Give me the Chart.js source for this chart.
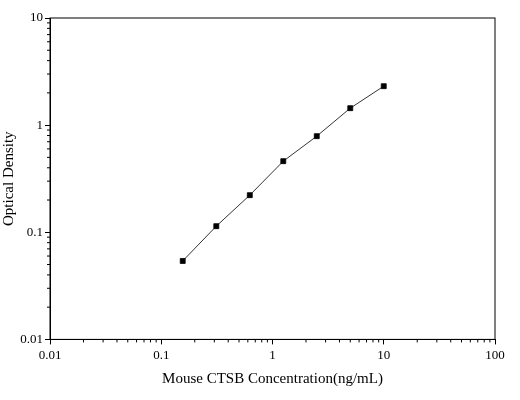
<!DOCTYPE html>
<html><head><meta charset="utf-8">
<script src="https://cdn.jsdelivr.net/npm/chart.js@4"></script>
<style>html,body{margin:0;background:#fff}#w{width:520px;height:400px}</style>
</head><body><div id="w"><canvas id="c"></canvas></div>
<script>
const concentrations=[0.156,0.3125,0.625,1.25,2.5,5,10];
const opticalDensity=[0.054,0.114,0.222,0.461,0.789,1.44,2.31];
const xTicks=[0.01,0.1,1,10,100];
const yTicks=[0.01,0.1,1,10];
const font={family:'"Liberation Serif", serif',size:13};
const box={id:'box',afterDraw(ch){const a=ch.chartArea,c=ch.ctx;c.save();c.strokeStyle='#000';c.lineWidth=1;c.strokeRect(a.left,a.top,a.right-a.left,a.bottom-a.top);
 const x=ch.scales.x,y=ch.scales.y;c.beginPath();
 for(let d=0.01;d<100;d*=10)for(let k=2;k<10;k++){const px=x.getPixelForValue(d*k);c.moveTo(px,a.bottom);c.lineTo(px,a.bottom+3);}
 for(let d=0.01;d<10;d*=10)for(let k=2;k<10;k++){const py=y.getPixelForValue(d*k);c.moveTo(a.left,py);c.lineTo(a.left-3,py);}
 c.stroke();c.restore();}};
new Chart(document.getElementById('c'),{type:'line',
data:{datasets:[{data:concentrations.map((v,i)=>({x:v,y:opticalDensity[i]})),borderColor:'#000',borderWidth:0.8,backgroundColor:'#000',pointStyle:'rect',pointRadius:3.5,tension:0}]},
options:{responsive:true,maintainAspectRatio:false,animation:false,layout:{padding:{top:18,right:25,left:0,bottom:8}},
plugins:{legend:{display:false},tooltip:{enabled:false}},
scales:{
x:{type:'logarithmic',min:0.01,max:100,afterBuildTicks:s=>{s.ticks=xTicks.map(v=>({value:v}));},
 ticks:{color:'#000',font,callback:v=>String(v),maxRotation:0},grid:{drawOnChartArea:false,tickLength:5,color:'#000'},border:{color:'#000'},
 title:{display:true,text:'Mouse CTSB Concentration(ng/mL)',color:'#000',font:{family:font.family,size:15}}},
y:{type:'logarithmic',min:0.01,max:10,afterBuildTicks:s=>{s.ticks=yTicks.map(v=>({value:v}));},afterFit:s=>{s.width=50;},
 ticks:{color:'#000',font,callback:v=>String(v),padding:2},grid:{drawOnChartArea:false,tickLength:5,color:'#000'},border:{color:'#000'},
 title:{display:true,text:'Optical Density',color:'#000',font:{family:font.family,size:15},padding:{top:0,bottom:2}}}}},
plugins:[box]});
</script></body></html>
